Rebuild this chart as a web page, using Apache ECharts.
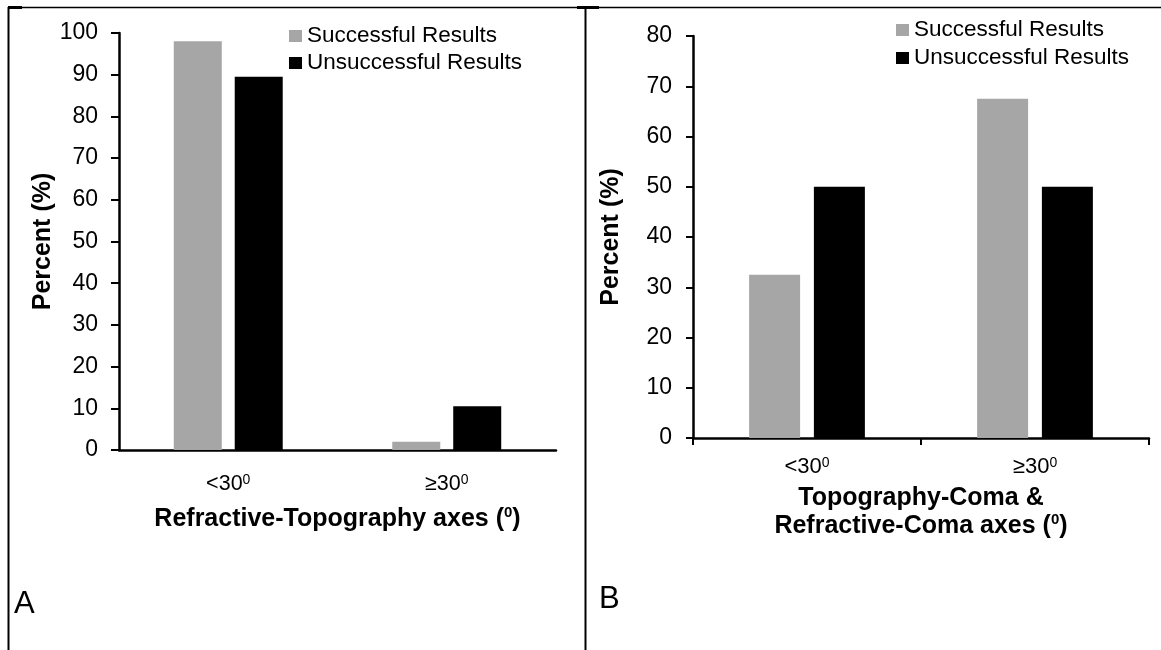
<!DOCTYPE html>
<html>
<head>
<meta charset="utf-8">
<title>Successful vs unsuccessful results by axis difference</title>
<script src="https://cdn.jsdelivr.net/npm/echarts@6/dist/echarts.min.js"></script>
<style>
  html, body { margin: 0; padding: 0; background: #fff; }
  #chart { width: 1161px; height: 650px; }
</style>
</head>
<body>
<div id="chart"></div>
<script>
// Category labels (each followed by a superscript "0")
const categories = ['<30', '\u226530'];
const superMark = '0';

// Panel A: refractive-topography axis difference (%)
const successfulA = [98, 2];
const unsuccessfulA = [89.5, 10.5];

// Panel B: topography-coma & refractive-coma axis difference (%)
const successfulB = [32.5, 67.5];
const unsuccessfulB = [50, 50];

const seriesNames = ['Successful Results', 'Unsuccessful Results'];
const panelLabels = ['A', 'B'];
const yMaxA = 100, yMaxB = 80, yStep = 10;

const FONT = '"Liberation Sans", Arial, sans-serif';
const GRAY = '#a6a6a6';
const BLACK = '#000000';

const chart = echarts.init(document.getElementById('chart'), null, { renderer: 'canvas' });

function catLabel(size, margin) {
  return {
    margin,
    color: '#000',
    fontFamily: FONT,
    formatter: v => `{t|${v}}{s|${superMark}}`,
    rich: {
      t: { fontSize: size, fontFamily: FONT, color: '#000' },
      s: { fontSize: Math.round(size * 0.64), fontFamily: FONT, color: '#000', verticalAlign: 'top' }
    }
  };
}

const TITLE_SIZE = 25;
const nameRich = {
  b: { fontSize: TITLE_SIZE, fontWeight: 'bold', fontFamily: FONT, color: '#000', lineHeight: 28 },
  s: { fontSize: 15, fontWeight: 'bold', fontFamily: FONT, color: '#000', verticalAlign: 'top', lineHeight: 28, padding: [0, 0, 9, 0] }
};

function yAxis(gridIndex, max, tickLen, gap) {
  return {
    type: 'value', gridIndex, min: 0, max, interval: yStep,
    name: 'Percent (%)', nameLocation: 'middle', nameGap: gap,
    nameTextStyle: { fontSize: TITLE_SIZE, fontWeight: 'bold', fontFamily: FONT, color: '#000' },
    axisLine: { show: true, lineStyle: { color: '#000', width: 2.5 } },
    axisTick: { show: true, length: tickLen, lineStyle: { color: '#000', width: 2 } },
    axisLabel: { fontSize: 23, fontFamily: FONT, color: '#000', margin: 21 },
    splitLine: { show: false }
  };
}

function barSeries(name, data, axisIdx, color, width) {
  return {
    name, type: 'bar', data, xAxisIndex: axisIdx, yAxisIndex: axisIdx,
    barWidth: width, barGap: '27%',
    itemStyle: { color },
    emphasis: { disabled: true },
    animation: false
  };
}

function legend(left, top, gap) {
  return {
    data: seriesNames, orient: 'vertical', left, top, padding: 0,
    icon: 'rect', itemWidth: 13, itemHeight: 12, itemGap: gap,
    textStyle: { fontSize: 22.5, fontFamily: FONT, color: '#000', lineHeight: 24 },
    selectedMode: false
  };
}

const option = {
  backgroundColor: '#fff',
  animation: false,
  grid: [
    { left: 119, top: 33, width: 437, height: 417 },
    { left: 693, top: 36, width: 456, height: 402 }
  ],
  legend: [legend(289, 24, 3), legend(896, 18, 4)],
  xAxis: [
    {
      type: 'category', gridIndex: 0, data: categories,
      name: `{b|Refractive-Topography axes (}{s|${superMark}}{b|)}`,
      nameLocation: 'middle', nameGap: 55,
      nameTextStyle: { rich: nameRich },
      axisLine: { lineStyle: { color: '#000', width: 2.5 } },
      axisTick: { show: false },
      axisLabel: catLabel(21.5, 23)
    },
    {
      type: 'category', gridIndex: 1, data: categories,
      name: `{b|Topography-Coma &}\n{b|Refractive-Coma axes (}{s|${superMark}}{b|)}`,
      nameLocation: 'middle', nameGap: 46,
      nameTextStyle: { rich: nameRich },
      axisLine: { lineStyle: { color: '#000', width: 2.5 } },
      axisTick: { show: true, length: 7, lineStyle: { color: '#000', width: 2 } },
      axisLabel: catLabel(22, 18)
    }
  ],
  yAxis: [
    yAxis(0, yMaxA, 8, 63),
    yAxis(1, yMaxB, 7, 69)
  ],
  series: [
    barSeries(seriesNames[0], successfulA, 0, GRAY, 48),
    barSeries(seriesNames[1], unsuccessfulA, 0, BLACK, 48),
    barSeries(seriesNames[0], successfulB, 1, GRAY, 51),
    barSeries(seriesNames[1], unsuccessfulB, 1, BLACK, 51)
  ],
  graphic: [
    // panel frame: top rule, left edge, divider
    { type: 'line', shape: { x1: 8, y1: 7.5, x2: 1161, y2: 7.5 }, style: { stroke: '#000', lineWidth: 1.5 } },
    { type: 'line', shape: { x1: 8.5, y1: 7, x2: 8.5, y2: 650 }, style: { stroke: '#000', lineWidth: 2 } },
    { type: 'line', shape: { x1: 585.5, y1: 7, x2: 585.5, y2: 650 }, style: { stroke: '#000', lineWidth: 2 } },
    { type: 'line', shape: { x1: 8, y1: 7.5, x2: 22, y2: 7.5 }, style: { stroke: '#000', lineWidth: 3 } },
    { type: 'line', shape: { x1: 577, y1: 7.5, x2: 599, y2: 7.5 }, style: { stroke: '#000', lineWidth: 3 } },
    // panel letters
    { type: 'text', left: 14, top: 589, style: { text: panelLabels[0], font: `31px ${FONT}`, fill: '#000' } },
    { type: 'text', left: 599, top: 584, style: { text: panelLabels[1], font: `31px ${FONT}`, fill: '#000' } }
  ]
};

chart.setOption(option);
</script>
</body>
</html>
